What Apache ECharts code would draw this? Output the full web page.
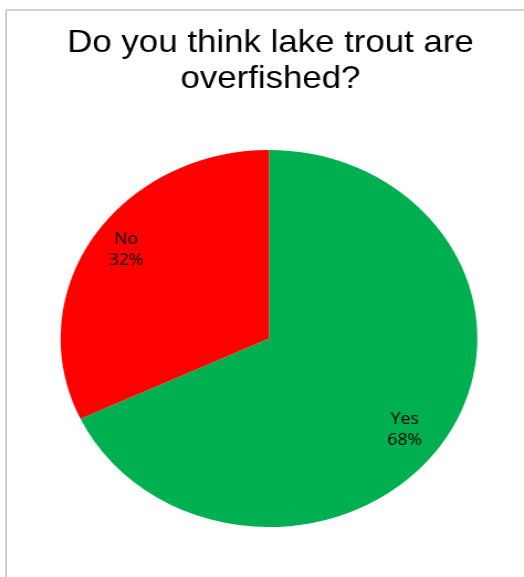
<!DOCTYPE html>
<html>
<head>
<meta charset="utf-8">
<script src="https://cdn.jsdelivr.net/npm/echarts@6/dist/echarts.min.js"></script>
<style>
  html, body { margin: 0; padding: 0; background: #fff; overflow: hidden; }
  #wrap { width: 524px; height: 577px; position: relative; overflow: hidden; }
  #chart { position: absolute; left: 0; top: 0; width: 474px; height: 577px;
           transform: scaleX(1.1055); transform-origin: 0 0; }
</style>
</head>
<body>
<div id="wrap"><div id="chart"></div></div>
<script>
const titleText = 'Do you think lake trout are\noverfished?';
const categories = ['Yes', 'No'];
const values = [68, 32];
const colors = ['#00B050', '#FF0000'];

// label nudges (layout only, not data)
const labelNudge = { Yes: [-9, 8], No: [2.5, -4.5] };

const data = categories.map((c, i) => ({ name: c, value: values[i], itemStyle: { color: colors[i] } }));
const labelData = categories.map((c, i) => ({ name: c, value: values[i], label: { offset: labelNudge[c] } }));

const chart = echarts.init(document.getElementById('chart'), null, { renderer: 'canvas' });
chart.setOption({
  animation: false,
  backgroundColor: 'transparent',
  graphic: [{
    type: 'rect',
    shape: { x: 5.5, y: 10, width: 2000, height: 2000 },
    style: { fill: 'none', stroke: '#a6a6a6', lineWidth: 1 },
    silent: true,
    z: 0
  }],
  title: {
    text: titleText,
    left: 244.7,
    top: 25,
    textAlign: 'center',
    padding: 0,
    textStyle: {
      fontFamily: 'Liberation Sans, Arial, sans-serif',
      fontSize: 31.5,
      fontWeight: 'normal',
      color: '#000',
      lineHeight: 36
    }
  },
  series: [
    {
      type: 'pie',
      center: [243.3, 338.5],
      radius: [0, 188.5],
      startAngle: 90,
      clockwise: true,
      label: { show: false },
      labelLine: { show: false },
      silent: true,
      data: data
    },
    {
      type: 'pie',
      center: [243.3, 338.5],
      radius: [117.5, 188.5],
      startAngle: 90,
      clockwise: true,
      silent: true,
      itemStyle: { color: 'rgba(0,0,0,0)' },
      label: {
        show: true,
        position: 'inside',
        formatter: '{b}\n{d}%',
        color: '#000',
        fontFamily: 'Open Sans, DejaVu Sans, sans-serif',
        fontSize: 16,
        lineHeight: 21,
        align: 'center'
      },
      labelLine: { show: false },
      data: labelData
    }
  ]
});
</script>
</body>
</html>
